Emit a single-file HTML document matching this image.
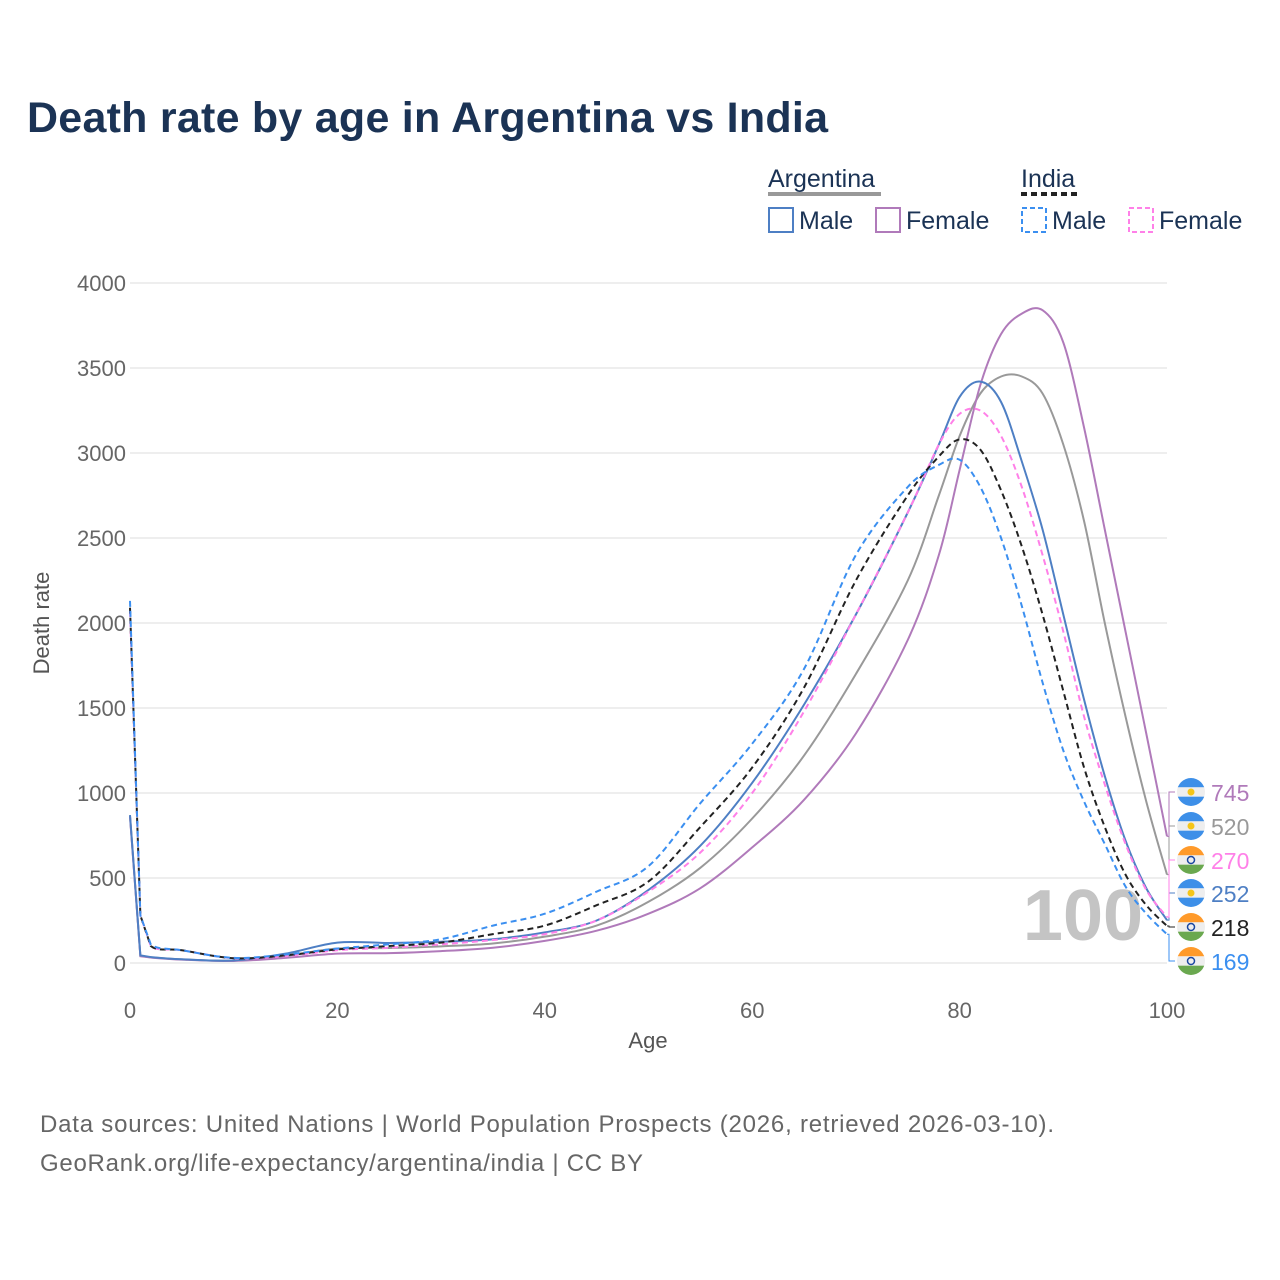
<!DOCTYPE html>
<html><head><meta charset="utf-8"><style>
body{margin:0;background:#fff;font-family:"Liberation Sans",sans-serif}
#wrap{position:relative;width:1280px;height:1280px;overflow:hidden}
</style></head><body>
<div id="wrap">
<svg id="svg" width="1280" height="1280" style="position:absolute;left:0;top:0">
<text x="27" y="132" font-size="43" font-weight="bold" fill="#1b3355" textLength="801">Death rate by age in Argentina vs India</text>
<g font-size="25" fill="#1b3355">
<text x="768" y="187">Argentina</text>
<line x1="768" y1="194" x2="881" y2="194" stroke="#999" stroke-width="4"/>
<text x="1021" y="187">India</text>
<line x1="1021" y1="194" x2="1078" y2="194" stroke="#222" stroke-width="4" stroke-dasharray="6,4"/>
<rect x="769" y="208" width="24" height="24" fill="none" stroke="#4e7fc4" stroke-width="2"/>
<text x="799" y="229">Male</text>
<rect x="876" y="208" width="24" height="24" fill="none" stroke="#b07aba" stroke-width="2"/>
<text x="906" y="229">Female</text>
<rect x="1022" y="208" width="24" height="24" fill="none" stroke="#3b8ff0" stroke-width="2" stroke-dasharray="5,3"/>
<text x="1052" y="229">Male</text>
<rect x="1129" y="208" width="24" height="24" fill="none" stroke="#ff80e8" stroke-width="2" stroke-dasharray="5,3"/>
<text x="1159" y="229">Female</text>
</g>
<g id="grid"></g>
<text x="1083" y="940" font-size="72" font-weight="bold" fill="#c4c4c4" text-anchor="middle">100</text>
<g id="series"></g>
<g id="ends"></g>
<text x="648" y="1048" font-size="22" fill="#555" text-anchor="middle">Age</text>
<text x="0" y="0" font-size="22" fill="#555" text-anchor="middle" transform="translate(49,623) rotate(-90)">Death rate</text>
<text x="40" y="1132" font-size="24" fill="#666" textLength="1014">Data sources: United Nations | World Population Prospects (2026, retrieved 2026-03-10).</text>
<text x="40" y="1171" font-size="24" fill="#666" textLength="603">GeoRank.org/life-expectancy/argentina/india | CC BY</text>
</svg>
</div>
<script>
const ages=[0,1,2,5,10,15,20,25,30,35,40,45,50,55,60,65,70,75,78,80,82,84,86,88,90,92,94,96,98,100];
const argMale=[870,45,35,22,15,55,120,118,125,140,180,250,430,690,1060,1520,2050,2650,3050,3330,3420,3300,2950,2550,2050,1550,1100,720,440,252];
const argFemale=[860,40,32,20,12,30,55,58,70,90,130,190,290,440,680,960,1350,1900,2400,2900,3400,3700,3820,3840,3650,3150,2550,1950,1350,745];
const argTotal=[865,42,33,21,14,42,85,88,98,115,155,220,360,560,850,1220,1700,2250,2750,3100,3350,3450,3450,3350,3050,2600,2000,1450,950,520];
const indMale=[2130,280,110,75,30,50,85,110,140,220,290,420,570,940,1290,1730,2400,2800,2930,2960,2800,2500,2100,1650,1250,950,700,450,290,169];
const indTotal=[2090,280,100,75,28,45,80,100,120,170,220,340,480,800,1150,1620,2250,2750,2980,3080,3020,2780,2450,2050,1600,1150,800,520,340,218];
const indFemale=[2070,280,100,75,28,40,75,90,110,135,170,250,420,650,1000,1480,2050,2650,3050,3230,3250,3100,2800,2400,1950,1450,1050,700,430,270];
const yTicks=[0,500,1000,1500,2000,2500,3000,3500,4000];
const xTicks=[0,20,40,60,80,100];
const NS="http://www.w3.org/2000/svg";
const X=a=>130+a*10.37, Y=v=>963-v*0.17;
function mk(t,at,p){const e=document.createElementNS(NS,t);for(const k in at)e.setAttribute(k,at[k]);p.appendChild(e);return e;}
const grid=document.getElementById('grid');
yTicks.forEach(v=>{
 const l=mk('line',{x1:130,x2:1167,y1:Y(v),y2:Y(v),stroke:'#e8e8e8','stroke-width':1.5},grid);
 
 
 const t=mk('text',{x:126,y:Y(v)+8,'font-size':22,fill:'#666','text-anchor':'end'},grid);t.textContent=v;
 
 
});
xTicks.forEach(v=>{
 const t=mk('text',{x:X(v),y:1018,'font-size':22,fill:'#666','text-anchor':'middle'},grid);t.textContent=v;
 
 
});
function pathD(vals){
 const P=ages.map((a,i)=>[X(a),Y(vals[i])]);
 let d='M'+P[0][0]+','+P[0][1]+' L'+P[1][0]+','+P[1][1]+' L'+P[2][0]+','+P[2][1];
 for(let i=2;i<P.length-1;i++){
  const p0=P[i-1],p1=P[i],p2=P[i+1],p3=P[Math.min(i+2,P.length-1)];
  const c1=[p1[0]+(p2[0]-p0[0])/6,p1[1]+(p2[1]-p0[1])/6];
  const c2=[p2[0]-(p3[0]-p1[0])/6,p2[1]-(p3[1]-p1[1])/6];
  d+=` C${c1[0]},${c1[1]} ${c2[0]},${c2[1]} ${p2[0]},${p2[1]}`;
 }
 return d;
}
const S=document.getElementById('series');
const series=[
 ['argentina-total',argTotal,'#999','',520,826,'ar'],
 ['argentina-female',argFemale,'#b07aba','',745,792,'ar'],
 ['argentina-male',argMale,'#4e7fc4','',252,893,'ar'],
 ['india-female',indFemale,'#ff80e8','6,4',270,860,'in'],
 ['india-total',indTotal,'#222','6,4',218,927,'in'],
 ['india-male',indMale,'#3b8ff0','6,4',169,961,'in']
];
const E=document.getElementById('ends');
series.forEach(s=>{
 const p=mk('path',{d:pathD(s[1]),fill:'none',stroke:s[2],'stroke-width':2,'stroke-dasharray':s[3]},S);
 
 
 const last=s[1][s[1].length-1];
 const ly=s[5];
 mk('path',{d:`M1167,${Y(last)} L1169,${Y(last)} L1169,${ly} L1175,${ly}`,fill:'none',stroke:s[2],'stroke-width':1},E);
 const g=mk('g',{},E);
 
 
 const cx=1191,cy=ly,r=14;
 const cp='cp'+s[0];
 const c=mk('clipPath',{id:cp},g);mk('circle',{cx,cy,r},c);
 const top=s[6]==='ar'?'#3d8fe8':'#ff9a2a',bot=s[6]==='ar'?'#3d8fe8':'#6aa84f';
 mk('rect',{x:cx-r,y:cy-r,width:2*r,height:2*r/3,fill:top,'clip-path':`url(#${cp})`},g);
 mk('rect',{x:cx-r,y:cy-r/3,width:2*r,height:2*r/3,fill:'#eee','clip-path':`url(#${cp})`},g);
 mk('rect',{x:cx-r,y:cy+r/3,width:2*r,height:2*r/3,fill:bot,'clip-path':`url(#${cp})`},g);
 mk('circle',{cx,cy,r:3.5,fill:s[6]==='ar'?'#f5c518':'none',stroke:s[6]==='ar'?'none':'#1a47a0','stroke-width':1.5},g);
 const t=mk('text',{x:1211,y:ly+9,'font-size':23,fill:s[2]},E);t.textContent=last;
 
 
});
</script>
</body></html>
